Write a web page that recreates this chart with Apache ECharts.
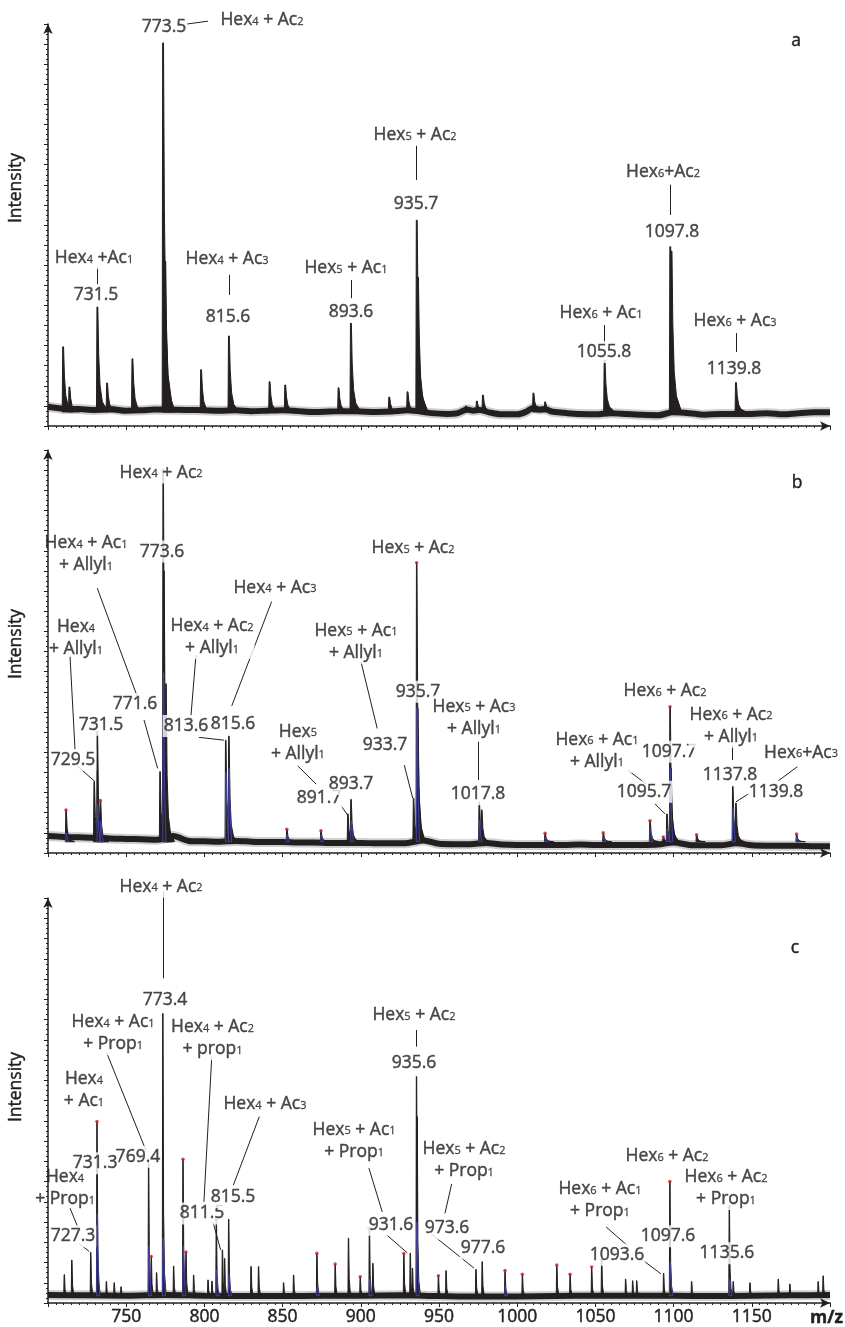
<!DOCTYPE html>
<html>
<head>
<meta charset="utf-8">
<script src="https://cdn.jsdelivr.net/npm/echarts@6/dist/echarts.min.js"></script>
<style>
  html, body { margin: 0; padding: 0; background: #fff; }
  #chart { width: 845px; height: 1327px; }
</style>
</head>
<body>
<div id="chart"></div>
<script>
// ---- tick labels on the shared m/z axis ----
const mzTicks = [750, 800, 850, 900, 950, 1000, 1050, 1100, 1150];

// ---- spectrum a: peaks [m/z, relative intensity] ----
const peaksA = [
  [709.6, 19.7], [713.6, 9.7], [731.5, 29.6], [737.7, 10.7], [753.9, 16.7],
  [773.5, 95.3], [774.9, 41.0], [797.8, 14.0], [815.6, 22.4], [841.6, 11.0],
  [851.6, 10.2], [885.7, 9.5], [893.6, 25.6], [918.1, 7.2], [929.8, 8.5],
  [935.7, 51.2], [936.5, 37.0], [967.1, 5.0], [974.1, 6.2], [978.0, 7.7],
  [1010.3, 8.2], [1017.8, 6.0], [1055.8, 16.4], [1097.8, 44.6], [1098.6, 43.5],
  [1139.8, 10.8]
];
// noise-band level of spectrum a
const baselineA = [
  [700, 4.8], [710, 4.3], [720, 4.2], [730, 4.0], [740, 4.2], [750, 3.8], [760, 3.9],
  [768, 4.1], [790, 4.0], [800, 3.9], [810, 3.8], [820, 3.9], [830, 3.7], [840, 3.8],
  [850, 3.9], [860, 3.7], [870, 3.5], [880, 3.6], [890, 3.7], [900, 3.6], [910, 3.5],
  [920, 3.6], [930, 3.9], [945, 3.2], [955, 3.0], [962, 3.2], [968, 4.1], [972, 3.8],
  [976, 4.0], [982, 3.4], [990, 2.9], [1000, 2.9], [1006, 3.6], [1010, 4.5], [1014, 4.1],
  [1018, 4.2], [1022, 3.6], [1030, 3.3], [1040, 3.0], [1050, 2.9], [1060, 3.2], [1070, 3.0],
  [1080, 2.8], [1090, 2.7], [1100, 3.4], [1110, 3.2], [1120, 2.8], [1130, 3.0], [1140, 3.0],
  [1150, 3.0], [1160, 3.2], [1170, 2.9], [1180, 3.2], [1190, 3.4], [1200, 3.4]
];

// ---- spectrum b: peaks [m/z, intensity, picked-apex flag] ----
const peaksB = [
  [711.5, 10.7, 1], [729.5, 17.7], [731.5, 30.0, 1], [733.5, 13.0, 1], [771.6, 20.2],
  [773.6, 95.0, 1], [774.1, 70.0], [775.4, 42.0], [813.6, 28.0], [815.6, 29.0],
  [852.7, 5.9, 1], [874.5, 5.5, 1], [891.7, 9.7], [893.7, 13.3], [933.7, 13.6],
  [935.7, 72.0, 1], [936.4, 36.0], [975.7, 12.7], [977.3, 10.7], [1017.8, 4.9, 1],
  [1055.0, 5.0, 1], [1084.9, 8.0, 1], [1093.4, 4.0, 1], [1095.7, 9.7], [1097.7, 36.3, 1],
  [1098.3, 21.0], [1114.7, 4.5, 1], [1137.8, 16.5], [1139.8, 12.4], [1178.6, 4.7, 1]
];
const baselineB = [
  [700, 4.2], [710, 4.0], [720, 3.9], [730, 3.8], [740, 3.6], [750, 3.5], [760, 3.4],
  [770, 3.3], [780, 4.2], [790, 3.0], [800, 2.9], [810, 2.8], [820, 3.0], [830, 2.8],
  [840, 2.7], [850, 2.7], [860, 2.6], [870, 2.6], [880, 2.5], [890, 2.5], [900, 2.5],
  [910, 2.4], [920, 2.4], [930, 2.5], [940, 3.1], [950, 2.3], [960, 2.2], [970, 2.2],
  [980, 2.5], [990, 2.1], [1000, 2.0], [1010, 2.0], [1020, 2.0], [1030, 2.0], [1040, 2.1],
  [1050, 2.0], [1060, 2.0], [1070, 2.0], [1080, 2.0], [1090, 2.1], [1100, 2.6], [1110, 2.0],
  [1120, 1.9], [1130, 1.9], [1140, 2.4], [1150, 1.9], [1160, 1.8], [1170, 1.8], [1180, 1.8],
  [1190, 1.7], [1200, 1.7]
];
// smoothed profile traces of spectrum b
const profileB = [
  [711.5, 5.0], [731.5, 12.0], [733.5, 8.0], [773.6, 44.7], [813.6, 20.0], [815.6, 21.0],
  [852.7, 4.5], [874.5, 4.5], [893.7, 8.0], [935.7, 36.0], [975.7, 8.0], [1017.8, 4.0],
  [1055.0, 4.0], [1084.9, 6.0], [1095.7, 6.0], [1097.7, 21.0], [1137.8, 11.0], [1178.6, 4.0]
];

// ---- spectrum c ----
const peaksC = [
  [710.4, 7.0], [715.2, 10.6], [727.3, 12.5], [731.3, 44.8, 1], [737.3, 5.3],
  [742.3, 5.0], [746.7, 4.0], [764.3, 34.5], [766.0, 11.5, 1], [769.4, 7.5],
  [773.4, 71.5], [780.3, 9.1], [786.3, 35.5, 1], [788.2, 12.6, 1], [793.1, 6.9],
  [802.3, 5.7], [804.8, 5.4], [807.6, 20.7, 1], [811.5, 13.1], [812.9, 11.0],
  [815.5, 20.7], [829.8, 9.0], [834.6, 9.0], [850.6, 5.0], [857.0, 6.9],
  [871.9, 12.3, 1], [883.6, 9.6, 1], [892.1, 16.0], [899.6, 6.5, 1], [905.5, 18.4, 1],
  [907.7, 9.8], [927.5, 12.2, 1], [931.6, 12.3], [933.0, 8.6], [935.6, 55.9],
  [936.0, 46.0], [949.6, 6.7, 1], [954.5, 8.0], [973.6, 8.3], [977.6, 10.2],
  [992.2, 8.0, 1], [1003.3, 7.1, 1], [1025.3, 9.4, 1], [1033.8, 7.1, 1], [1047.6, 9.0, 1],
  [1054.0, 10.6, 1], [1069.3, 5.9], [1073.8, 5.5], [1076.4, 5.5], [1093.6, 7.3],
  [1097.6, 30.0, 1], [1111.5, 5.3], [1135.6, 23.8, 1], [1138.1, 5.3], [1148.8, 5.0],
  [1166.9, 5.9], [1174.3, 4.7], [1192.4, 5.3], [1195.6, 6.7]
];
const baselineC = [
  [700, 2.0], [725, 1.9], [750, 1.8], [775, 2.0], [800, 1.8], [825, 1.7], [850, 1.7],
  [875, 1.8], [900, 1.8], [925, 1.9], [950, 1.7], [975, 1.6], [1000, 1.6], [1025, 1.7],
  [1050, 1.8], [1075, 1.8], [1100, 1.8], [1125, 1.7], [1150, 1.8], [1175, 1.9], [1200, 2.0]
];
const profileC = [
  [731.3, 22.0], [764.3, 14.0], [773.4, 16.0], [786.3, 14.0], [807.6, 8.0], [815.5, 7.0],
  [871.9, 4.0], [905.5, 6.0], [935.6, 20.0], [992.2, 4.0], [1097.6, 10.0], [1135.6, 6.0]
];

// ---- annotations: [text, m/z, intensity, no-background flag]; "_n" = subscript ----
const notesA = [
  ['773.5', 774.2, 99.3], ['Hex_4 + Ac_2', 836.8, 101.0],
  ['Hex_4 +Ac_1', 729.4, 41.8], ['731.5', 730.7, 32.6],
  ['Hex_4 + Ac_3', 814.5, 41.5], ['815.6', 815.1, 27.1],
  ['Hex_5 + Ac_1', 890.5, 39.3], ['893.6', 893.7, 28.4],
  ['Hex_5 + Ac_2', 934.7, 72.4], ['935.7', 935.3, 55.2],
  ['Hex_6 + Ac_1', 1053.6, 28.1], ['1055.8', 1055.5, 18.4],
  ['Hex_6+Ac_2', 1093.2, 63.2], ['1097.8', 1099.0, 48.3],
  ['Hex_6 + Ac_3', 1139.3, 26.1], ['1139.8', 1138.6, 14.2]
];
const leadersA = [
  [788.9, 100.0, 802.3, 100.7], [731.5, 39.6, 731.5, 35.1], [815.6, 37.6, 815.6, 32.6],
  [893.6, 36.3, 893.6, 31.8], [935.7, 69.9, 935.7, 61.2], [1055.8, 25.1, 1055.8, 20.6],
  [1097.8, 60.0, 1097.8, 52.5], [1139.8, 23.1, 1139.8, 18.4]
];

const notesB = [
  ['Hex_4 + Ac_2', 772.3, 94.4], ['773.6', 772.9, 74.8],
  ['Hex_4 + Ac_1\n+ Allyl_1', 724.3, 74.2, 1], ['771.6', 755.6, 37.0],
  ['Hex_4\n+ Allyl_1', 717.9, 53.3, 1], ['729.5', 716.0, 23.1], ['731.5', 733.9, 31.8],
  ['Hex_4 + Ac_3', 845.1, 65.8], ['Hex_4 + Ac_2\n+ Allyl_1', 804.9, 53.6],
  ['813.6', 788.2, 31.5], ['815.6', 818.3, 32.0],
  ['Hex_5\n+ Allyl_1', 859.8, 27.4], ['891.7', 873.3, 13.7], ['893.7', 893.7, 17.1],
  ['Hex_5 + Ac_1\n+ Allyl_1', 896.9, 52.4], ['933.7', 915.5, 26.8],
  ['Hex_5 + Ac_2', 933.4, 75.6], ['935.7', 936.6, 40.0],
  ['Hex_5 + Ac_3\n+ Allyl_1', 972.4, 33.6], ['1017.8', 974.9, 14.6],
  ['Hex_6 + Ac_1\n+ Allyl_1', 1051.0, 25.4], ['1095.7', 1081.1, 15.2],
  ['Hex_6 + Ac_2', 1094.5, 40.2], ['1097.7', 1097.1, 25.1],
  ['Hex_6 + Ac_2\n+ Allyl_1', 1136.7, 31.6], ['1137.8', 1136.1, 19.4],
  ['Hex_6+Ac_3', 1181.5, 24.9], ['1139.8', 1165.5, 15.2]
];
const leadersB = [
  [731.5, 65.7, 757.1, 38.8], [761.4, 33.0, 770.1, 21.0], [714.1, 48.7, 717.3, 25.6],
  [718.7, 21.6, 730.1, 17.7], [843.0, 62.4, 817.5, 36.5], [794.6, 49.1, 791.4, 34.0],
  [796.5, 28.7, 812.5, 28.0], [859.7, 21.6, 871.4, 17.1], [887.1, 11.9, 891.6, 9.4],
  [900.1, 47.5, 910.5, 30.9], [927.8, 21.8, 933.2, 13.6], [975.3, 27.6, 975.3, 18.1],
  [1070.7, 20.6, 1082.4, 17.1], [1088.1, 12.2, 1094.5, 9.7], [1137.3, 26.8, 1137.3, 23.1],
  [1179.1, 21.4, 1166.9, 17.9], [1148.4, 14.8, 1139.9, 12.7]
];

const notesC = [
  ['Hex_4 + Ac_2', 772.3, 102.8], ['773.4', 774.8, 74.8],
  ['Hex_4 + Ac_1\n+ Prop_1', 741.6, 66.6], ['769.4', 757.5, 36.1],
  ['Hex_4\n+ Ac_1', 723.0, 52.5], ['731.3', 730.1, 34.5],
  ['Hex_4\n+ Prop_1', 710.9, 28.3, 1], ['727.3', 716.0, 16.5],
  ['Hex_4 + Ac_2\n+ prop_1', 805.2, 65.4], ['811.5', 798.5, 22.1],
  ['Hex_4 + Ac_3', 838.7, 49.1], ['815.5', 818.3, 26.2],
  ['Hex_5 + Ac_1\n+ Prop_1', 895.7, 40.1], ['931.6', 919.3, 19.3],
  ['Hex_5 + Ac_2', 934.0, 71.1], ['935.6', 934.0, 59.2],
  ['Hex_5 + Ac_2\n+ Prop_1', 966.0, 35.3], ['973.6', 955.1, 18.4], ['977.6', 978.1, 13.5],
  ['Hex_6 + Ac_1\n+ Prop_1', 1052.9, 25.4], ['1093.6', 1063.8, 11.9],
  ['Hex_6 + Ac_2', 1095.8, 36.3], ['1097.6', 1096.4, 16.5],
  ['Hex_6 + Ac_2\n+ Prop_1', 1133.5, 28.4], ['1135.6', 1134.1, 12.3]
];
const leadersC = [
  [773.4, 101.6, 773.4, 80.2], [737.5, 61.8, 762.7, 37.6], [714.1, 23.4, 719.0, 18.8],
  [720.0, 14.7, 726.4, 12.7], [804.7, 60.8, 799.7, 25.0], [805.5, 20.0, 810.4, 13.1],
  [835.1, 46.0, 818.5, 29.1], [905.2, 33.3, 913.7, 22.5], [916.6, 16.8, 929.7, 12.4],
  [935.6, 67.4, 935.6, 63.3], [958.1, 29.4, 953.8, 22.1], [945.3, 17.0, 972.4, 8.6],
  [1056.8, 18.8, 1070.7, 14.1], [1080.2, 10.6, 1091.9, 7.2]
];

// ---- styling ----
const INK = '#231f20';
const FONT = '"Open Sans", "Noto Sans", sans-serif';
const TXT = 17.5;
const TXT_EDGE = 0.45;   // thin text outline for a heavier stroke
// peak outlines: [m/z offset, fraction of peak height]
const SHAPE_A = [[-0.5, 0], [-0.2, 1], [0.35, 1], [0.9, 0.55], [1.8, 0.25], [3.2, 0.1], [6.5, 0]];
const SHAPE_B = [[-0.4, 0], [-0.12, 1], [0.22, 1], [0.75, 0.42], [1.6, 0.16], [3.0, 0.05], [5.5, 0]];
const SHAPE_C = [[-0.32, 0], [-0.1, 1], [0.15, 1], [0.5, 0.3], [1.1, 0.08], [2.2, 0]];
const SHAPE_PROFILE = [[-0.2, 0], [0.1, 1], [0.35, 1], [0.9, 0.35], [1.8, 0]];

const panels = [
  { peaks: peaksA, base: baselineA, profile: [], notes: notesA, leaders: leadersA, floor: 3.5, shape: SHAPE_A, top: 24, height: 402 },
  { peaks: peaksB, base: baselineB, profile: profileB, notes: notesB, leaders: leadersB, floor: 2.8, shape: SHAPE_B, top: 450, height: 403 },
  { peaks: peaksC, base: baselineC, profile: profileC, notes: notesC, leaders: leadersC, floor: 1.8, shape: SHAPE_C, top: 898, height: 405 }
];

function richText(t) { return t.replace(/_(\d)/g, '{s|$1}'); }

function peakRenderer(shape, floor, style) {
  return function (params, api) {
    const mz = api.value(0);
    const top = api.value(1);
    const points = shape.map(s => api.coord([mz + s[0], floor + (top - floor) * s[1]]));
    return { type: 'polygon', shape: { points: points }, style: style };
  };
}

const grids = [], xAxes = [], yAxes = [], series = [];

panels.forEach((p, i) => {
  grids.push({ left: 48, width: 782, top: p.top, height: p.height, outerBoundsMode: 'none', containLabel: false });
  xAxes.push({
    gridIndex: i, type: 'value', min: 700, max: 1200, interval: 50,
    axisLine: { show: true, onZero: false, symbol: ['none', 'arrow'], symbolSize: [7, 10], lineStyle: { color: INK, width: 1.5 } },
    axisTick: { show: true, length: 4, lineStyle: { color: INK, width: 1 } },
    minorTick: { show: true, splitNumber: 10, length: 2, lineStyle: { color: INK, width: 1 } },
    splitLine: { show: false }, minorSplitLine: { show: false },
    axisLabel: {
      show: i === 2, margin: 5, color: INK, fontFamily: FONT, fontSize: TXT,
      textBorderColor: INK, textBorderWidth: TXT_EDGE,
      formatter: v => (mzTicks.indexOf(v) >= 0 ? String(v) : '')
    }
  });
  yAxes.push({
    gridIndex: i, type: 'value', min: 0, max: 100, interval: 5,
    axisLine: { show: true, onZero: false, symbol: ['none', 'arrow'], symbolSize: [7, 10], lineStyle: { color: INK, width: 1.5 } },
    axisTick: { show: true, length: 4, lineStyle: { color: INK, width: 1 } },
    minorTick: { show: true, splitNumber: 4, length: 2, lineStyle: { color: INK, width: 1 } },
    splitLine: { show: false }, minorSplitLine: { show: false },
    axisLabel: { show: false }
  });

  // noise band: soft fringe plus dark core
  series.push({
    type: 'line', xAxisIndex: i, yAxisIndex: i, data: p.base, showSymbol: false, silent: true, z: 1,
    smooth: 0.3, lineStyle: { width: 10, color: 'rgba(35,31,32,0.22)' }
  });
  series.push({
    type: 'line', xAxisIndex: i, yAxisIndex: i, data: p.base, showSymbol: false, silent: true, z: 2,
    smooth: 0.3, lineStyle: { width: 6, color: INK }
  });
  // peaks
  series.push({
    type: 'custom', xAxisIndex: i, yAxisIndex: i, silent: true, z: 3, clip: false,
    data: p.peaks.map(d => [d[0], d[1]]), encode: { x: 0, y: 1 },
    renderItem: peakRenderer(p.shape, p.floor, { fill: INK, stroke: INK, lineWidth: 1 })
  });
  // smoothed profile traces
  if (p.profile.length) {
    series.push({
      type: 'custom', xAxisIndex: i, yAxisIndex: i, silent: true, z: 4, clip: false,
      data: p.profile, encode: { x: 0, y: 1 },
      renderItem: peakRenderer(SHAPE_PROFILE, p.floor, { fill: 'none', stroke: '#4646b4', lineWidth: 1, opacity: 0.85 })
    });
  }
  // picked apex markers
  series.push({
    type: 'scatter', xAxisIndex: i, yAxisIndex: i, silent: true, z: 5,
    symbolSize: 3.5, itemStyle: { color: '#cc1f24' },
    data: p.peaks.filter(d => d[2]).map(d => [d[0], d[1]])
  });
  // leader lines
  series.push({
    type: 'lines', coordinateSystem: 'cartesian2d', xAxisIndex: i, yAxisIndex: i, silent: true, z: 6, clip: false,
    lineStyle: { color: INK, width: 1, opacity: 1, curveness: 0 },
    data: p.leaders.map(l => ({ coords: [[l[0], l[1]], [l[2], l[3]]] }))
  });
  // annotation text
  series.push({
    type: 'scatter', xAxisIndex: i, yAxisIndex: i, silent: true, z: 10, clip: false,
    symbolSize: 1, itemStyle: { color: 'rgba(0,0,0,0)' },
    data: p.notes.map(n => ({
      name: n[0], value: [n[1], n[2]],
      label: { backgroundColor: n[3] ? 'transparent' : '#fff' }
    })),
    label: {
      show: true, position: 'inside', formatter: prm => richText(prm.name),
      color: INK, fontFamily: FONT, fontSize: TXT, lineHeight: 22, align: 'center',
      textBorderColor: INK, textBorderWidth: TXT_EDGE,
      padding: [0, 1],
      rich: { s: { fontSize: 11, fontFamily: FONT, color: INK, textBorderColor: INK, textBorderWidth: 0.3, padding: [3, 0, 0, 0] } }
    },
    emphasis: { disabled: true }
  });
});

const textStyle = (extra) => Object.assign({ fill: INK, stroke: INK, lineWidth: TXT_EDGE, font: TXT + 'px ' + FONT }, extra);
const graphics = [
  { type: 'text', x: 16, y: 188, rotation: Math.PI / 2, style: textStyle({ text: 'Intensity', textAlign: 'center', textVerticalAlign: 'middle' }) },
  { type: 'text', x: 16, y: 644, rotation: Math.PI / 2, style: textStyle({ text: 'Intensity', textAlign: 'center', textVerticalAlign: 'middle' }) },
  { type: 'text', x: 16, y: 1087, rotation: Math.PI / 2, style: textStyle({ text: 'Intensity', textAlign: 'center', textVerticalAlign: 'middle' }) },
  { type: 'text', x: 796, y: 41, style: textStyle({ text: 'a', textAlign: 'center', textVerticalAlign: 'middle' }) },
  { type: 'text', x: 797, y: 483, style: textStyle({ text: 'b', textAlign: 'center', textVerticalAlign: 'middle' }) },
  { type: 'text', x: 795, y: 948, style: textStyle({ text: 'c', textAlign: 'center', textVerticalAlign: 'middle' }) },
  { type: 'text', x: 843, y: 1318, style: textStyle({ text: 'm/z', font: 'bold ' + TXT + 'px ' + FONT, textAlign: 'right', textVerticalAlign: 'middle' }) }
];

const chart = echarts.init(document.getElementById('chart'), null, { renderer: 'canvas' });
chart.setOption({
  backgroundColor: '#ffffff',
  animation: false,
  grid: grids,
  xAxis: xAxes,
  yAxis: yAxes,
  series: series,
  graphic: graphics
});
</script>
</body>
</html>
